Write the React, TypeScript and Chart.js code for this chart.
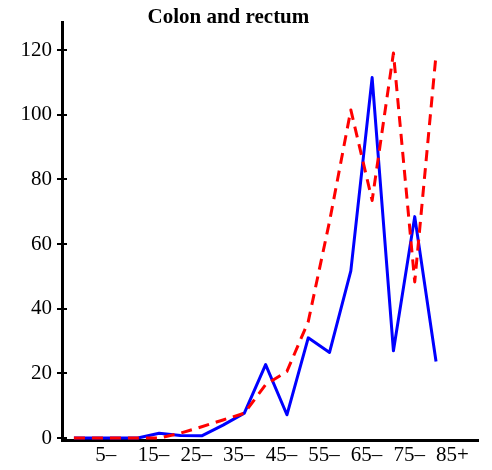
import React, { useEffect, useRef } from 'react';
import { Chart, registerables } from 'chart.js';

Chart.register(...registerables);

const ageGroups = ['0–', '5–', '10–', '15–', '20–', '25–', '30–', '35–', '40–', '45–', '50–', '55–', '60–', '65–', '70–', '75–', '80–', '85+'];
const blueSeries = [0, 0, 0, 0, 1.5, 0.8, 0.7, 4, 7.7, 22.7, 7.2, 31, 26.5, 51.7, 111.5, 27, 68.5, 23.7];
const redSeries = [0, 0, 0, 0, 0, 1.5, 3.5, 5.6, 7.7, 16.5, 20.6, 36, 67, 101.5, 73.5, 119.1, 48.3, 118.6];
const xTickIndices = [1, 3, 5, 7, 9, 11, 13, 15, 17];
const yTicks = [0, 20, 40, 60, 80, 100, 120];
const chartTitle = 'Colon and rectum';

const FONT = '"Liberation Serif", "Times New Roman", serif';

const decorPlugin = {
  id: 'decor',
  afterDraw(chart: any) {
    const { ctx, chartArea, scales } = chart;
    const y = scales.y;
    ctx.save();
    ctx.strokeStyle = '#000';
    ctx.lineWidth = 2;
    yTicks.forEach((v) => {
      const py = Math.round(y.getPixelForValue(v));
      ctx.beginPath();
      ctx.moveTo(chartArea.left, py);
      ctx.lineTo(chartArea.left + 5, py);
      ctx.stroke();
    });
    ctx.font = `bold 21px ${FONT}`;
    ctx.fillStyle = '#000';
    ctx.textAlign = 'center';
    ctx.textBaseline = 'alphabetic';
    ctx.fillText(chartTitle, chartArea.left + 0.4 * (chartArea.right - chartArea.left), chartArea.top + 1);
    ctx.restore();
  },
};

export default function App() {
  const canvasRef = useRef<HTMLCanvasElement | null>(null);

  useEffect(() => {
    document.body.style.margin = '0';
    const canvas = canvasRef.current;
    if (!canvas) return;
    Chart.defaults.font.family = FONT;
    const chart = new Chart(canvas, {
      type: 'line',
      data: {
        datasets: [
          {
            label: 'blue',
            data: blueSeries.map((v, i) => ({ x: i, y: v })),
            borderColor: '#0000ff',
            borderWidth: 3,
            pointRadius: 0,
            tension: 0,
            fill: false,
            borderJoinStyle: 'round',
            order: 1,
          },
          {
            label: 'red',
            data: redSeries.map((v, i) => ({ x: i, y: v })),
            borderColor: '#ff0000',
            borderWidth: 3,
            borderDash: [11, 7],
            pointRadius: 0,
            tension: 0,
            fill: false,
            borderJoinStyle: 'round',
            order: 0,
          },
        ],
      },
      options: {
        animation: false,
        responsive: false,
        layout: { padding: { top: 22, right: 14, left: 0, bottom: 0 } },
        plugins: {
          legend: { display: false },
          title: { display: false },
          tooltip: { enabled: false },
        },
        scales: {
          x: {
            type: 'linear',
            min: -0.56,
            max: 18.97,
            afterBuildTicks: (axis: any) => {
              axis.ticks = xTickIndices.map((v) => ({ value: v }));
            },
            afterFit: (axis: any) => {
              axis.height = 30;
            },
            grid: { display: false, drawTicks: false },
            border: { display: true, color: '#000', width: 3 },
            ticks: {
              align: 'start',
              autoSkip: false,
              maxRotation: 0,
              padding: 3,
              color: '#000',
              font: { size: 21, family: FONT },
              callback: (value: any) => ageGroups[Number(value)] ?? '',
            },
          },
          y: {
            type: 'linear',
            min: -0.6,
            max: 128.7,
            afterBuildTicks: (axis: any) => {
              axis.ticks = yTicks.map((v) => ({ value: v }));
            },
            afterFit: (axis: any) => {
              axis.width = 62;
            },
            grid: {
              display: true,
              drawOnChartArea: false,
              drawTicks: true,
              tickLength: 5,
              color: '#000',
              lineWidth: 2,
            },
            border: { display: true, color: '#000', width: 3 },
            ticks: {
              padding: 5,
              color: '#000',
              font: { size: 21, family: FONT },
            },
          },
        },
      },
      plugins: [decorPlugin],
    } as any);
    return () => chart.destroy();
  }, []);

  return (
    <div style={{ width: 492, height: 470 }}>
      <canvas ref={canvasRef} width={492} height={470} style={{ display: 'block' }} />
    </div>
  );
}
